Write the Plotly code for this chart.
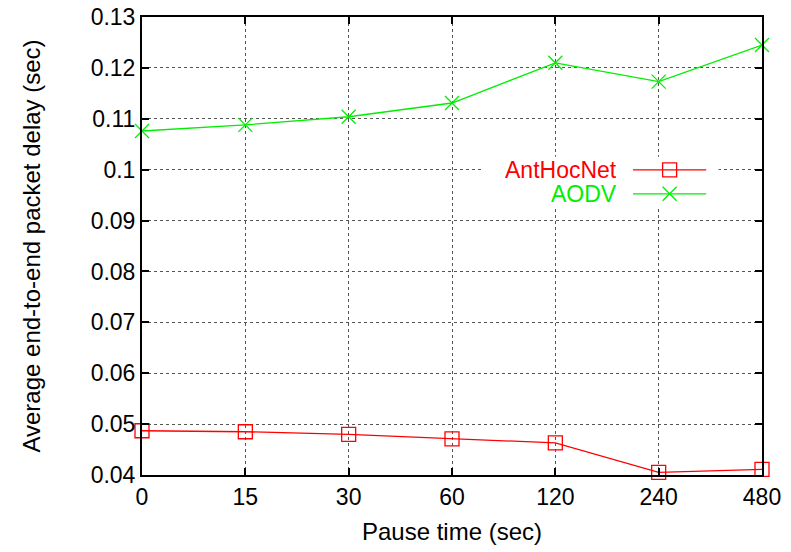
import plotly.graph_objects as go

pause_labels = ["0", "15", "30", "60", "120", "240", "480"]
anthocnet = [0.0487, 0.0485, 0.0480, 0.0471, 0.0463, 0.0405, 0.0411]
aodv = [0.1076, 0.1088, 0.1104, 0.1131, 0.1210, 0.1173, 0.1245]
y_ticks = [0.04, 0.05, 0.06, 0.07, 0.08, 0.09, 0.10, 0.11, 0.12, 0.13]
y_tick_text = ["0.04", "0.05", "0.06", "0.07", "0.08", "0.09", "0.1", "0.11", "0.12", "0.13"]

RED = "#ff0000"
GREEN = "#00ee00"
FONT = "Liberation Sans, Arial, sans-serif"
FS = 23
TITLE_FS = 24

idx = list(range(len(pause_labels)))

fig = go.Figure()
fig.add_trace(go.Scatter(
    x=idx, y=anthocnet, mode="lines+markers", name="AntHocNet",
    line=dict(color=RED, width=1.3),
    marker=dict(symbol="square-open", size=14, color=RED, line=dict(width=1.3)),
    showlegend=False, cliponaxis=False))
fig.add_trace(go.Scatter(
    x=idx, y=aodv, mode="lines+markers", name="AODV",
    line=dict(color=GREEN, width=1.3),
    marker=dict(symbol="x-thin-open", size=14, color=GREEN, line=dict(width=1.3, color=GREEN)),
    showlegend=False, cliponaxis=False))

# white box behind the key, masking the grid (overlay axis in [0,1])
fig.add_trace(go.Scatter(
    x=[0.55, 0.93, 0.93, 0.55, 0.55], y=[0.585, 0.585, 0.695, 0.695, 0.585],
    mode="lines", fill="toself", fillcolor="white", line=dict(width=0, color="white"),
    xaxis="x2", yaxis="y2", showlegend=False, hoverinfo="skip"))

# custom gnuplot-style key (text left of sample)
legend_names = ["AntHocNet", "AODV"]
legend_colors = [RED, GREEN]
legend_symbols = ["square-open", "x-thin-open"]
legend_y = [0.666, 0.614]
for name, col, sym, ly in zip(legend_names, legend_colors, legend_symbols, legend_y):
    fig.add_trace(go.Scatter(
        x=[0.792, 0.910], y=[ly, ly], mode="lines", xaxis="x2", yaxis="y2",
        line=dict(color=col, width=1.3), showlegend=False, hoverinfo="skip"))
    fig.add_trace(go.Scatter(
        x=[0.851], y=[ly], mode="markers", xaxis="x2", yaxis="y2",
        marker=dict(symbol=sym, size=14, color=col, line=dict(width=1.3, color=col)),
        showlegend=False, hoverinfo="skip"))
    fig.add_annotation(x=0.767, y=ly, xref="x2", yref="y2", text=name,
                       showarrow=False, xanchor="right", yanchor="middle",
                       height=20, borderpad=0,
                       font=dict(family=FONT, size=FS, color=col))

# page has an 8px body margin, so the figure is offset by (8, 8)
fig.update_layout(
    width=783, height=544,
    margin=dict(l=134, r=29, t=9, b=77),
    paper_bgcolor="white", plot_bgcolor="white",
    font=dict(family=FONT, size=FS, color="black"),
    xaxis=dict(
        range=[0, 6], tickmode="array", tickvals=idx, ticktext=pause_labels,
        ticks="inside", ticklen=7, tickwidth=2, tickcolor="black",
        showline=True, linewidth=2, linecolor="black", mirror="allticks",
        showgrid=True, gridcolor="#555555", griddash="dot", gridwidth=1,
        zeroline=False, automargin=False,
        title=dict(text="Pause time (sec)", standoff=15,
                   font=dict(family=FONT, size=TITLE_FS, color="black")),
        tickfont=dict(family=FONT, size=FS, color="black"), ticklabeloverflow="allow"),
    yaxis=dict(
        range=[0.04, 0.13], tickmode="array", tickvals=y_ticks, ticktext=y_tick_text,
        ticks="inside", ticklen=7, tickwidth=2, tickcolor="black",
        showline=True, linewidth=2, linecolor="black", mirror="allticks",
        showgrid=True, gridcolor="#555555", griddash="dot", gridwidth=1,
        zeroline=False, automargin=False,
        title=dict(text="Average end-to-end packet delay (sec)", standoff=43,
                   font=dict(family=FONT, size=TITLE_FS, color="black")),
        tickfont=dict(family=FONT, size=FS, color="black"), ticklabeloverflow="allow"),
    xaxis2=dict(range=[0, 1], overlaying="x", visible=False, fixedrange=True),
    yaxis2=dict(range=[0, 1], overlaying="y", visible=False, fixedrange=True),
)

fig.write_html("out.html")
